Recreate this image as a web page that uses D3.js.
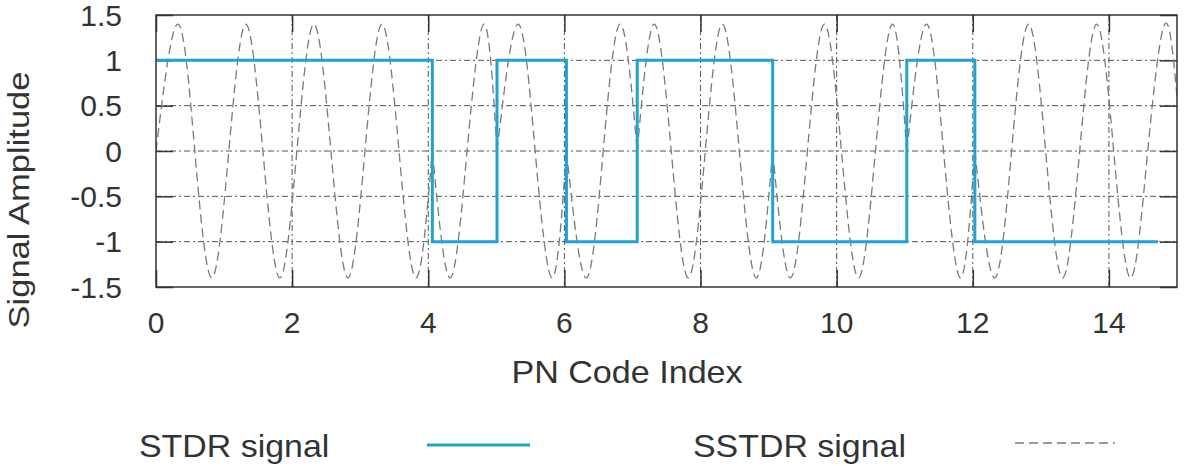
<!DOCTYPE html>
<html>
<head>
<meta charset="utf-8">
<script src="https://cdn.jsdelivr.net/npm/d3@7"></script>
<style>
  body { margin: 0; background: #fff; }
  text { font-family: "Liberation Sans", Arial, sans-serif; fill: #333; }
</style>
</head>
<body>
<svg id="chart" width="1186" height="466"></svg>
<script>
// axis ticks
let xTicks = [0, 2, 4, 6, 8, 10, 12, 14];
let yTicks = [-1.5, -1, -0.5, 0, 0.5, 1, 1.5];
let yGrid = [-1, -0.5, 0, 0.5, 1];

// STDR signal: PN code chips (step after each index)
let stdrIndex = [0, 4.06, 5.01, 6.03, 7.07, 9.06, 11.03, 12.03, 14.72];
let stdrValue = [1, -1, 1, -1, 1, -1, 1, -1, -1];

// SSTDR signal: zero crossings and peaks
let sstdrIndex = [0, 0.32, 0.57, 0.82, 1.07, 1.32, 1.57, 1.82, 2.07, 2.32, 2.57, 2.82, 3.07, 3.32, 3.57, 3.82, 4.06,
    4.32, 4.57, 4.82, 5.01,
    5.32, 5.57, 5.82, 6.03,
    6.32, 6.57, 6.82, 7.07,
    7.32, 7.57, 7.82, 8.07, 8.32, 8.57, 8.82, 9.06,
    9.32, 9.57, 9.82, 10.07, 10.32, 10.57, 10.82, 11.03,
    11.32, 11.57, 11.82, 12.03,
    12.32, 12.57, 12.82, 13.07, 13.32, 13.57, 13.82, 14.07, 14.32, 14.57, 14.82, 15];
let sstdrValue = [0, 1.4, 0, -1.4, 0, 1.4, 0, -1.4, 0, 1.4, 0, -1.4, 0, 1.4, 0, -1.4, 0,
    -1.4, 0, 1.4, 0,
    1.4, 0, -1.4, 0,
    -1.4, 0, 1.4, 0,
    1.4, 0, -1.4, 0, 1.4, 0, -1.4, 0,
    -1.4, 0, 1.4, 0, -1.4, 0, 1.4, 0,
    1.4, 0, -1.4, 0,
    -1.4, 0, 1.4, 0, -1.4, 0, 1.4, 0, -1.4, 0, 1.4, 0.6];

let legendLabels = ["STDR signal", "SSTDR signal"];

function createChart() {
    let margin = {top: 15, right: 9, bottom: 179, left: 156};
    let w = 1186 - margin.left - margin.right;
    let h = 466 - margin.top - margin.bottom;

    let svg = d3.select('#chart')
        .append('g')
        .attr('transform', `translate(${margin.left},${margin.top})`);

    let xScale = d3.scaleLinear().domain([0, 15]).range([0, w]);
    let yScale = d3.scaleLinear().domain([-1.5, 1.5]).range([h, 0]);

    svg.append('clipPath').attr('id', 'plot-clip')
        .append('rect').attr('width', w).attr('height', h);

    // grid lines (dash-dot)
    svg.selectAll('.hgrid')
        .data(yGrid)
        .enter().append('line')
        .attr('x1', 0).attr('x2', w)
        .attr('y1', d => yScale(d)).attr('y2', d => yScale(d))
        .attr('stroke', '#555').attr('stroke-width', 1)
        .style('stroke-dasharray', '6,3,2,3');
    svg.selectAll('.vgrid')
        .data(xTicks.slice(1))
        .enter().append('line')
        .attr('x1', d => xScale(d)).attr('x2', d => xScale(d))
        .attr('y1', 0).attr('y2', h)
        .attr('stroke', '#555').attr('stroke-width', 1)
        .style('stroke-dasharray', '6,3,2,3');

    // axes with inward ticks on all four sides
    let tickLen = 17;
    let xAxis = d3.axisBottom(xScale).tickValues(xTicks).tickSize(tickLen).tickFormat('');
    svg.append('g').attr('transform', `translate(0,${h})`).call(g => {
        g.call(d3.axisTop(xScale).tickValues(xTicks).tickSize(tickLen).tickFormat(''));
    });
    svg.append('g').call(d3.axisBottom(xScale).tickValues(xTicks).tickSize(tickLen).tickFormat(''));
    svg.append('g').call(d3.axisRight(yScale).tickValues(yTicks).tickSize(tickLen).tickFormat(''));
    svg.append('g').attr('transform', `translate(${w},0)`)
        .call(d3.axisLeft(yScale).tickValues(yTicks).tickSize(tickLen).tickFormat(''));
    svg.selectAll('.domain').remove();
    svg.selectAll('.tick line').attr('stroke', '#333').attr('stroke-width', 1.5);

    // tick labels
    svg.selectAll('.xlab')
        .data(xTicks)
        .enter().append('text')
        .attr('x', d => xScale(d))
        .attr('y', h + 46)
        .attr('text-anchor', 'middle')
        .attr('font-size', '30px')
        .text(d => d);
    svg.selectAll('.ylab')
        .data(yTicks)
        .enter().append('text')
        .attr('x', -34)
        .attr('y', d => yScale(d))
        .attr('dy', '0.36em')
        .attr('text-anchor', 'end')
        .attr('font-size', '30px')
        .text(d => d);

    // SSTDR signal, one piece per code chip
    let breaks = stdrIndex.slice(1, -1);
    let edges = [0].concat(breaks, [15]);
    let sstdr = sstdrIndex.map((x, i) => ({x: x, y: sstdrValue[i]}));
    let pieces = d3.range(edges.length - 1).map(i =>
        sstdr.filter(p => p.x >= edges[i] && p.x <= edges[i + 1]));
    let wave = d3.line()
        .x(d => xScale(d.x))
        .y(d => yScale(d.y))
        .curve(d3.curveNatural);
    svg.append('g').attr('clip-path', 'url(#plot-clip)')
        .selectAll('path')
        .data(pieces)
        .enter().append('path')
        .attr('d', wave)
        .attr('fill', 'none')
        .attr('stroke', '#7a7a7a')
        .attr('stroke-width', 1.3)
        .style('stroke-dasharray', '9,5');

    // STDR signal
    let stdr = stdrIndex.map((x, i) => ({x: x, y: stdrValue[i]}));
    let step = d3.line()
        .x(d => xScale(d.x))
        .y(d => yScale(d.y))
        .curve(d3.curveStepAfter);
    svg.append('path')
        .datum(stdr)
        .attr('d', step)
        .attr('fill', 'none')
        .attr('stroke', '#21a3d0')
        .attr('stroke-width', 3);

    // frame
    svg.append('rect')
        .attr('width', w).attr('height', h)
        .attr('fill', 'none')
        .attr('stroke', '#333')
        .attr('stroke-width', 1.5);

    // axis titles
    let root = d3.select('#chart');
    root.append('text')
        .attr('transform', 'translate(627,383) scale(1.1,1)')
        .attr('text-anchor', 'middle')
        .attr('font-size', '31px')
        .text('PN Code Index');
    root.append('text')
        .attr('transform', 'translate(29,200) rotate(-90) scale(1.15,1)')
        .attr('text-anchor', 'middle')
        .attr('font-size', '30px')
        .text('Signal Amplitude');

    // legend
    root.append('text')
        .attr('transform', 'translate(139,457) scale(1.06,1)')
        .attr('font-size', '32px')
        .text(legendLabels[0]);
    root.append('line')
        .attr('x1', 427).attr('x2', 530)
        .attr('y1', 445).attr('y2', 445)
        .attr('stroke', '#21a3d0').attr('stroke-width', 3);
    root.append('text')
        .attr('transform', 'translate(693,457) scale(1.06,1)')
        .attr('font-size', '32px')
        .text(legendLabels[1]);
    root.append('line')
        .attr('x1', 1015).attr('x2', 1115)
        .attr('y1', 443).attr('y2', 443)
        .attr('stroke', '#7a7a7a').attr('stroke-width', 1.3)
        .style('stroke-dasharray', '9,5');
}

window.onload = function() {
    createChart();
}
</script>
</body>
</html>
